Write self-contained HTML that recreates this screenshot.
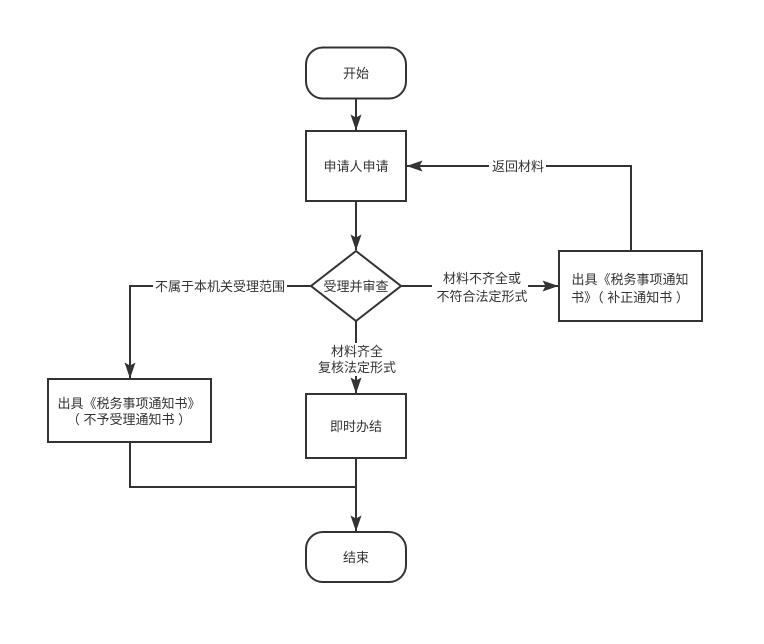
<!DOCTYPE html>
<html><head><meta charset="utf-8"><style>
html,body{margin:0;padding:0;background:#fff;}
svg{display:block;}
text{font-family:"Liberation Sans","Noto Sans CJK SC",sans-serif;font-size:13px;fill:#333;}
</style></head><body>
<svg width="764" height="644" viewBox="0 0 764 644" xmlns="http://www.w3.org/2000/svg">
<defs>
<marker id="a" markerWidth="16" markerHeight="12" refX="15.5" refY="6" orient="auto" markerUnits="userSpaceOnUse" viewBox="0 0 16 12">
<path d="M16,6 L0,0.5 L3,6 L0,11.5 Z" fill="#333"/>
</marker>
</defs>
<g stroke="#333" stroke-width="2" fill="none">
<rect x="306" y="47.5" width="100" height="51" rx="17" ry="17" fill="#fff"/>
<rect x="306" y="131" width="100" height="70" fill="#fff"/>
<path d="M356,251 L401,286 L356,321 L311,286 Z" fill="#fff"/>
<rect x="48" y="379" width="163" height="63" fill="#fff"/>
<rect x="559" y="251" width="143" height="70" fill="#fff"/>
<rect x="306" y="394" width="100" height="64" fill="#fff"/>
<rect x="306" y="532" width="100" height="50" rx="17" ry="17" fill="#fff"/>

<path d="M356,98.5 L356,130" marker-end="url(#a)"/>
<path d="M356,201 L356,250" marker-end="url(#a)"/>
<path d="M311,286 L130,286 L130,378" marker-end="url(#a)"/>
<path d="M401,286 L558,286" marker-end="url(#a)"/>
<path d="M631,251 L631,166 L407,166" marker-end="url(#a)"/>
<path d="M356,321 L356,393" marker-end="url(#a)"/>
<path d="M356,458 L356,531" marker-end="url(#a)"/>
<path d="M130,442 L130,487 L356,487"/>
</g>
<g fill="#fff">
<rect x="153" y="278" width="134" height="16"/>
<rect x="432" y="270" width="96" height="34"/>
<rect x="489" y="158" width="57" height="16"/>
<rect x="316" y="343" width="82" height="33"/>
</g>
<g text-anchor="middle">
<text x="356" y="78">开始</text>
<text x="356" y="171">申请人申请</text>
<text x="356" y="291">受理并审查</text>
<text x="220" y="291">不属于本机关受理范围</text>
<text x="482" y="283">材料不齐全或</text>
<text x="482" y="301">不符合法定形式</text>
<text x="518" y="171">返回材料</text>
<text x="630" y="284">出具《税务事项通知</text>
<text x="630" y="302" xml:space="preserve">书》（ 补正通知书 ）</text>
<text x="129" y="408">出具《税务事项通知书》</text>
<text x="129" y="424" xml:space="preserve">（ 不予受理通知书 ）</text>
<text x="357" y="356">材料齐全</text>
<text x="357" y="372">复核法定形式</text>
<text x="356" y="431">即时办结</text>
<text x="356" y="562">结束</text>
</g>
</svg>
</body></html>
